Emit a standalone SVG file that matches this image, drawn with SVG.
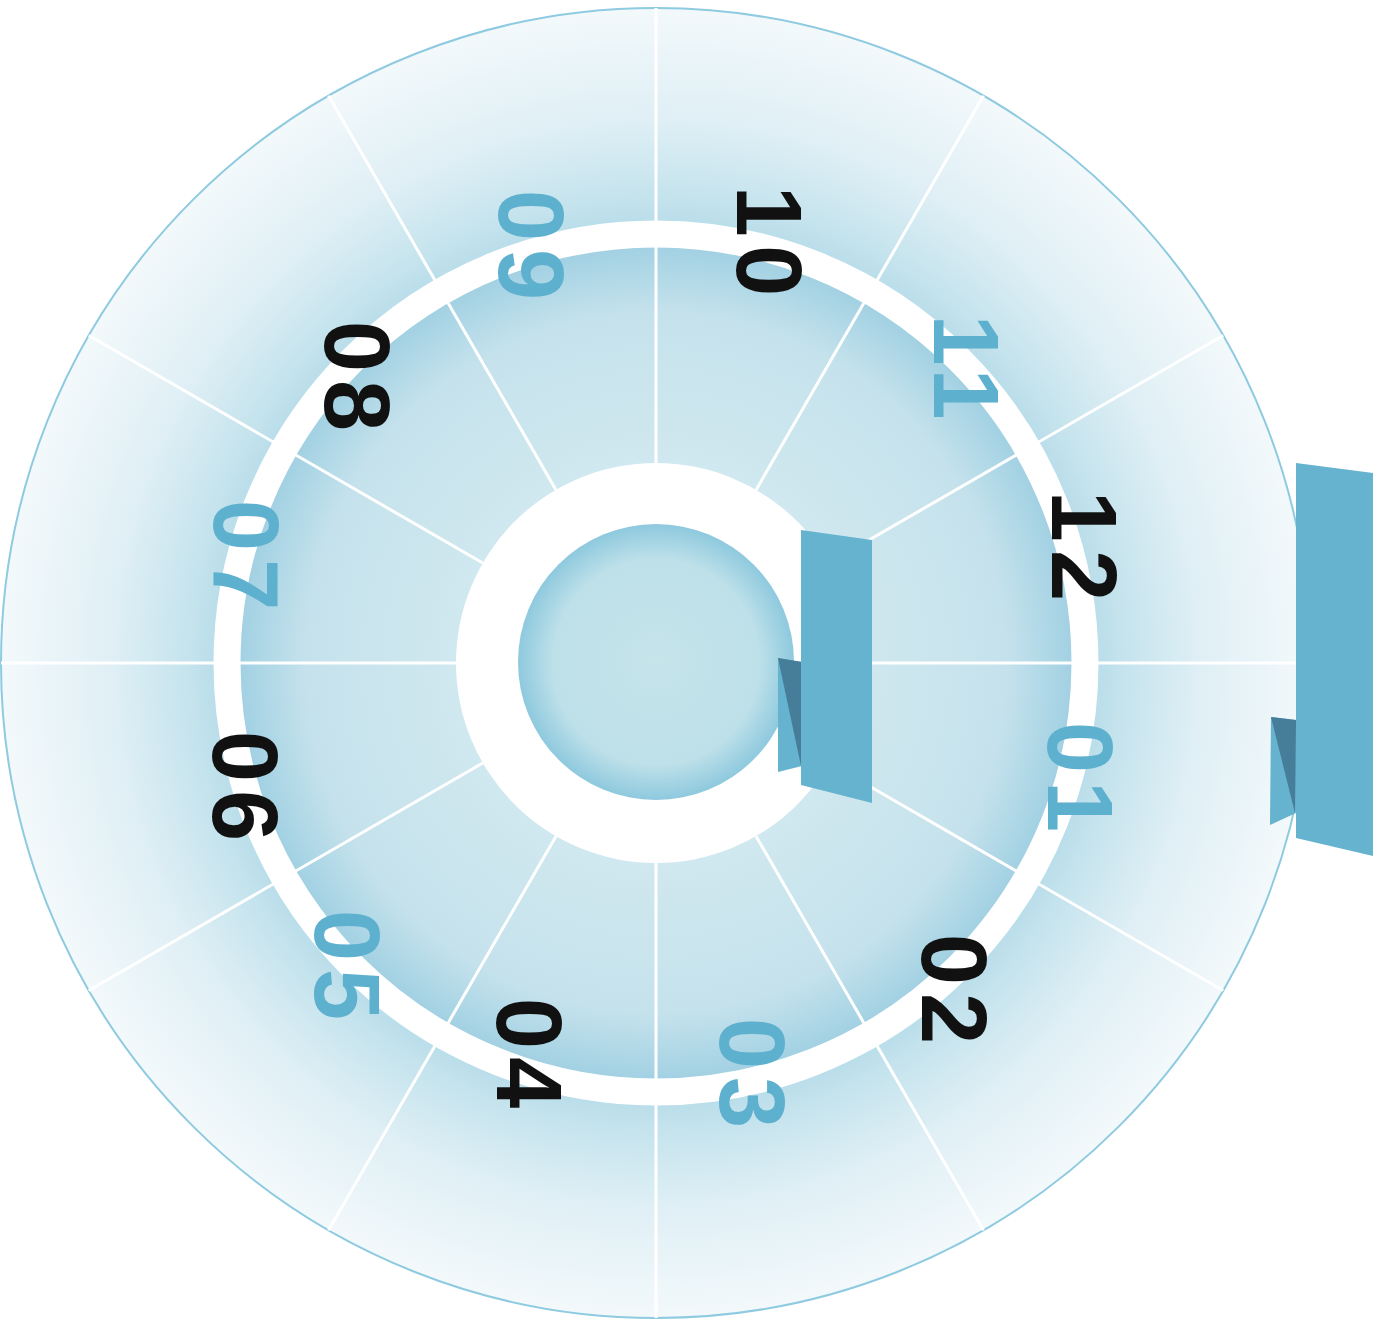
<svg xmlns="http://www.w3.org/2000/svg" width="1384" height="1332" viewBox="0 0 1384 1332">
<style>
.lbl{font-family:"Liberation Sans","DejaVu Sans",sans-serif;font-weight:bold;font-size:92px;text-anchor:middle;letter-spacing:8px}
.dark{fill:#111111}
.blue{fill:#5eb0cf}
.spoke{stroke:#ffffff;stroke-width:3}
.bar{fill:#66b3cf}
.flapd{fill:#467d98}
</style>
<defs>
<radialGradient id="gOuter" gradientUnits="userSpaceOnUse" cx="656" cy="663" r="655">
<stop offset="0.62" stop-color="#a9d5e5"/>
<stop offset="0.71" stop-color="#c4e3ed"/>
<stop offset="0.83" stop-color="#dfeff5"/>
<stop offset="1" stop-color="#f3f9fb"/>
</radialGradient>
<radialGradient id="gInner" gradientUnits="userSpaceOnUse" cx="656" cy="663" r="416">
<stop offset="0.48" stop-color="#d0e8ef"/>
<stop offset="0.84" stop-color="#c5e2ec"/>
<stop offset="1" stop-color="#a2d1e3"/>
</radialGradient>
<radialGradient id="gCore" gradientUnits="userSpaceOnUse" cx="656" cy="662" r="138">
<stop offset="0" stop-color="#c6e4ea"/>
<stop offset="0.75" stop-color="#bde0e9"/>
<stop offset="1" stop-color="#8ec9de"/>
</radialGradient>
</defs>
<rect width="1384" height="1332" fill="#ffffff"/>
<g id="dial">
<circle cx="656" cy="663" r="655" fill="url(#gOuter)" stroke="#8ecae0" stroke-width="2"/>
<circle cx="656" cy="663" r="416" fill="url(#gInner)"/>
<circle cx="656" cy="663" r="429" fill="none" stroke="#ffffff" stroke-width="27"/>
</g>
<g id="connectors">
<line class="spoke" x1="656" y1="463" x2="656" y2="8"/>
<line class="spoke" x1="756" y1="490" x2="983.5" y2="95.8"/>
<line class="spoke" x1="829.2" y1="563" x2="1223.2" y2="335.5"/>
<line class="spoke" x1="856" y1="663" x2="1311" y2="663"/>
<line class="spoke" x1="829.2" y1="763" x2="1223.2" y2="990.5"/>
<line class="spoke" x1="756" y1="836.2" x2="983.5" y2="1230.2"/>
<line class="spoke" x1="656" y1="863" x2="656" y2="1318"/>
<line class="spoke" x1="556" y1="836.2" x2="328.5" y2="1230.2"/>
<line class="spoke" x1="482.8" y1="763" x2="88.8" y2="990.5"/>
<line class="spoke" x1="456" y1="663" x2="1" y2="663"/>
<line class="spoke" x1="482.8" y1="563" x2="88.8" y2="335.5"/>
<line class="spoke" x1="556" y1="490" x2="328.5" y2="95.8"/>
</g>
<g id="hub">
<circle cx="656" cy="663" r="200" fill="#ffffff"/>
<circle cx="656" cy="662" r="138" fill="url(#gCore)"/>
</g>
<g id="label-10"><text class="lbl dark" transform="translate(770,241) rotate(90)" x="4" y="33">10</text></g>
<g id="label-11"><text class="lbl blue" transform="translate(967,367) rotate(90)" x="4" y="33">11</text></g>
<g id="label-12"><text class="lbl dark" transform="translate(1085,546) rotate(90)" x="4" y="33">12</text></g>
<g id="label-01"><text class="lbl blue" transform="translate(1081,777) rotate(90)" x="4" y="33">01</text></g>
<g id="label-02"><text class="lbl dark" transform="translate(955,989) rotate(90)" x="4" y="33">02</text></g>
<g id="label-03"><text class="lbl blue" transform="translate(753,1073) rotate(90)" x="4" y="33">03</text></g>
<g id="label-04"><text class="lbl dark" transform="translate(530,1053) rotate(90)" x="4" y="33">04</text></g>
<g id="label-05"><text class="lbl blue" transform="translate(348,965) rotate(90)" x="4" y="33">05</text></g>
<g id="label-06"><text class="lbl dark" transform="translate(246,786) rotate(90)" x="4" y="33">06</text></g>
<g id="label-07"><text class="lbl blue" transform="translate(247,555) rotate(90)" x="4" y="33">07</text></g>
<g id="label-08"><text class="lbl dark" transform="translate(358,376) rotate(90)" x="4" y="33">08</text></g>
<g id="label-09"><text class="lbl blue" transform="translate(532,245) rotate(90)" x="4" y="33">09</text></g>
<g id="bar-inner">
<polygon class="bar" points="778,658 802,662 802,766 778,772"/>
<polygon class="flapd" points="778,658 802,662 801,766"/>
<polygon class="bar" points="801,530 872,540 872,803 801,785"/>
</g>
<g id="bar-outer">
<polygon class="bar" points="1271,717 1296,720 1296,813 1270,825"/>
<polygon class="flapd" points="1271,717 1296,720 1295,813"/>
<polygon class="bar" points="1296,463 1373,473 1373,856 1296,838"/>
</g>
</svg>
